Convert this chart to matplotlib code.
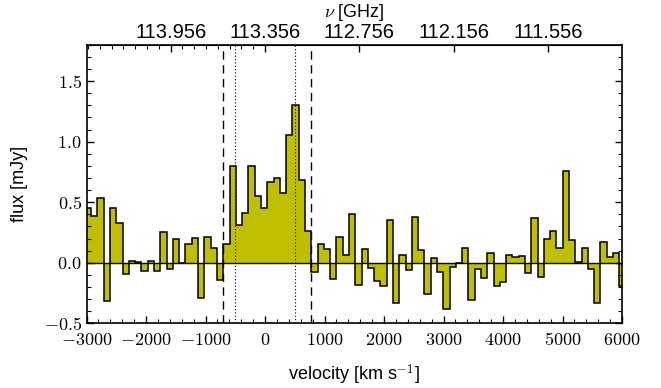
import numpy as np
import matplotlib
matplotlib.use("Agg")
import matplotlib.pyplot as plt
from matplotlib.ticker import MultipleLocator, FixedLocator, FuncFormatter

plt.rcParams['font.family'] = ['Liberation Sans', 'DejaVu Sans']
plt.rcParams['mathtext.fontset'] = 'cm'

# bin centres (km/s) of the 40 MHz channels
velocity = [-2976.0, -2870.3, -2764.6, -2658.9, -2553.2, -2447.5, -2341.8, -2236.1,
            -2130.4, -2024.7, -1919.0, -1813.3, -1707.6, -1601.9, -1496.2, -1390.5,
            -1284.8, -1179.1, -1073.4, -967.7, -862.0, -756.3, -650.6, -544.9,
            -439.2, -333.5, -227.8, -122.1, -16.4, 89.3, 195.0, 300.7,
            406.4, 512.1, 617.8, 723.5, 829.2, 934.9, 1040.6, 1146.3,
            1252.0, 1357.7, 1463.4, 1569.1, 1674.8, 1780.5, 1886.2, 1991.9,
            2097.6, 2203.3, 2309.0, 2414.7, 2520.4, 2626.1, 2731.8, 2837.5,
            2943.2, 3048.9, 3154.6, 3260.3, 3366.0, 3471.7, 3577.4, 3683.1,
            3788.8, 3894.5, 4000.2, 4105.9, 4211.6, 4317.3, 4423.0, 4528.7,
            4634.4, 4740.1, 4845.8, 4951.5, 5057.2, 5162.9, 5268.6, 5374.3,
            5480.0, 5585.7, 5691.4, 5797.1, 5902.8, 6008.5]
flux = [0.45, 0.39, 0.535, -0.316, 0.45, 0.33, -0.096, 0.016,
        0.005, -0.071, 0.016, -0.071, 0.25, -0.055, 0.197, -0.003,
        0.151, 0.206, -0.288, 0.212, 0.124, -0.146, 0.154, 0.797,
        0.308, 0.409, 0.802, 0.549, 0.45, 0.668, 0.698, 0.58,
        1.052, 1.30, 0.681, 0.265, -0.08, 0.152, 0.114, -0.132,
        0.21, 0.066, 0.40, -0.187, 0.11, -0.04, -0.147, -0.19,
        0.349, -0.33, 0.06, -0.063, 0.376, 0.107, -0.255, 0.036,
        -0.074, -0.38, -0.033, -0.005, 0.121, -0.305, -0.05, -0.124,
        0.077, -0.192, -0.162, 0.06, 0.044, 0.052, -0.088, 0.368,
        -0.121, 0.195, 0.261, 0.121, 0.755, 0.187, 0.005, 0.118,
        -0.055, -0.332, 0.17, 0.05, 0.08, -0.192]

dashed_lines = [-703, 776]
dotted_lines = [-500, 500]
freq_ticks = [113.956, 113.356, 112.756, 112.156, 111.556]
nu0 = 113.356
c_kms = 299792.458

v = np.array(velocity)
f = np.array(flux)
w = np.diff(v).mean()
edges = np.concatenate([v - w / 2, [v[-1] + w / 2]])

fig = plt.figure(figsize=(6.61, 3.88), dpi=100)
ax = fig.add_axes([0.131, 0.1667, 0.81, 0.718])

ax.stairs(f, edges, baseline=0, fill=True, color='y', lw=0)
ax.stairs(f, edges, baseline=None, color='black', lw=1.1)
ax.axhline(0, color='black', lw=1.0)
for x in dashed_lines:
    ax.axvline(x, color='black', ls=(0, (6, 4)), lw=1.0)
for x in dotted_lines:
    ax.axvline(x, color='black', ls=(0, (1, 2)), lw=0.8)

ax.set_xlim(-3000, 6000)
ax.set_ylim(-0.5, 1.8)

ax.xaxis.set_major_locator(MultipleLocator(1000))
ax.xaxis.set_minor_locator(MultipleLocator(200))
ax.yaxis.set_major_locator(MultipleLocator(0.5))
ax.yaxis.set_minor_locator(MultipleLocator(0.1))
ax.xaxis.set_major_formatter(FuncFormatter(lambda x, p: r'$%d$' % round(x)))
ax.yaxis.set_major_formatter(FuncFormatter(lambda y, p: r'$%.1f$' % y))
ax.tick_params(which='both', direction='in', top=False, right=True, labelsize=13)
ax.tick_params(axis='x', which='major', pad=6)
ax.tick_params(which='major', length=5, width=1)
ax.tick_params(which='minor', length=3, width=0.8)
for s in ax.spines.values():
    s.set_linewidth(1.2)

ax.set_xlabel(r'velocity [km s$^{-1}$]', fontsize=13, labelpad=10)
ax.set_ylabel('flux [mJy]', fontsize=13, labelpad=11)

sec = ax.secondary_xaxis('top', functions=(lambda x: nu0 * (1 - x / c_kms),
                                           lambda n: c_kms * (1 - n / nu0)))
sec.xaxis.set_major_locator(FixedLocator(freq_ticks))
minor = [freq_ticks[0] + 0.075 * k for k in range(-8, 60)]
sec.xaxis.set_minor_locator(FixedLocator(minor))
sec.xaxis.set_major_formatter(FuncFormatter(lambda x, p: '%.3f' % x))
sec.tick_params(which='both', direction='in', labelsize=14.5, pad=2)
sec.tick_params(which='major', length=5, width=1)
sec.tick_params(which='minor', length=3, width=0.8)
sec.set_xlabel(r'$\nu$ [GHz]', fontsize=13, labelpad=4)

fig.savefig('out.png', dpi=100)
